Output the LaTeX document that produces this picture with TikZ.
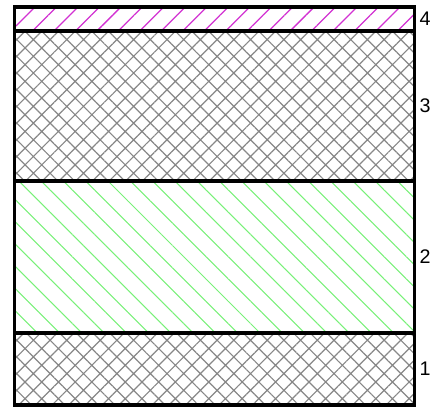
\documentclass[tikz,border=0pt]{standalone}
\usepackage{fontspec}
\setmainfont{Liberation Sans}
\usetikzlibrary{patterns.meta}
\definecolor{layermag}{RGB}{210,50,210}
\definecolor{layergreen}{RGB}{120,240,120}
\definecolor{layergray}{RGB}{135,135,135}
\tikzset{
  crossfill/.style={pattern={Hatch[angle=45,distance=8.4pt,line width=0.85pt]},pattern color=layergray},
  greenfill/.style={pattern={Lines[angle=-45,distance=11.2pt,line width=0.75pt]},pattern color=layergreen},
  magfill/.style={pattern={Lines[angle=45,distance=10.8pt,line width=0.9pt]},pattern color=layermag},
  layerline/.style={line width=2.2pt},
  layerlabel/.style={anchor=west,inner sep=0pt,font=\fontsize{14}{16}\selectfont}
}
\begin{document}
\begin{tikzpicture}
  \useasboundingbox (-0.3625,-0.05) rectangle (10.5875,10.125);
  \fill[crossfill] (0,0) rectangle (10,1.8);
  \fill[greenfill] (0,1.8) rectangle (10,5.6);
  \fill[crossfill] (0,5.6) rectangle (10,9.35);
  \fill[magfill] (0,9.35) rectangle (10,9.95);
  \foreach \y in {1.8,5.6,9.35}
    \draw[layerline] (0,\y)--(10,\y);
  \draw[layerline] (0,0) rectangle (10,9.95);
  \node[layerlabel] (lab1) at (10.12,0.9) {1};
  \node[layerlabel] (lab2) at (10.12,3.7) {2};
  \node[layerlabel] (lab3) at (10.12,7.475) {3};
  \node[layerlabel] (lab4) at (10.12,9.65) {4};
\end{tikzpicture}
\end{document}
